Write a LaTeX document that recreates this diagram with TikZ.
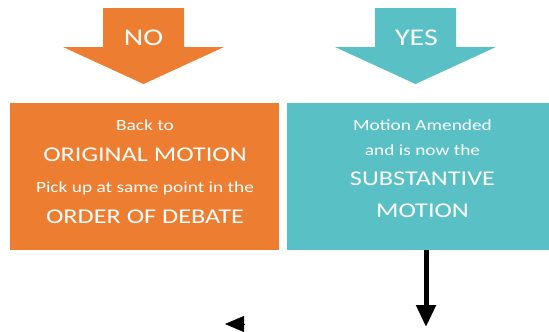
\documentclass[tikz,border=0pt]{standalone}
\usepackage{fontspec}
\setmainfont{Carlito}[FakeStretch=1.25]
\usetikzlibrary{arrows.meta}

\definecolor{noorange}{HTML}{ED7D31}
\definecolor{yesteal}{HTML}{59C1C5}

\newcommand\lineSmall{\fontsize{15.5}{31}\selectfont}
\newcommand\lineBig{\fontsize{21}{31}\selectfont}

\tikzset{
  decision/.style={font=\fontsize{24}{28}\selectfont, text=white, inner sep=0pt},
  outcome/.style={inner sep=0pt, minimum width=269pt, minimum height=147pt},
  outcometext/.style={align=center, text=white, inner sep=0pt},
  nextstep/.style={line width=5pt, -{Triangle[length=22pt,width=19pt]}},
}

\begin{document}
\begin{tikzpicture}[x=1pt, y=-1pt]

\useasboundingbox (0,0) rectangle (549,332);

\def\blockarrow(#1,#2)#3{
  \begin{scope}[shift={(#1,#2)}]
    \fill[#3] (-40.5,0) -- (40.5,0) -- (40.5,39) -- (80.5,39)
      -- (0,76) -- (-80.5,39) -- (-40.5,39) -- cycle;
  \end{scope}
}

\blockarrow(143.5,8){noorange}
\blockarrow(415.5,8){yesteal}

\node[decision] (no) at (143.5,37.5) {NO};
\node[decision] (yes) at (416.5,37.5) {YES};

% outcome boxes
\node[outcome, fill=noorange] (nobox) at (144.5,176.5) {};
\node[outcome, fill=yesteal] (yesbox) at (421.5,176.5) {};

\node[outcometext, font=\fontsize{15.5}{31}\selectfont] (notext) at (145,171.5)
  {\lineSmall Back to\\ \lineBig ORIGINAL MOTION\\
   \lineSmall Pick up at same point in the\\ \lineBig ORDER OF DEBATE};
\node[outcometext, font=\fontsize{15.5}{25}\selectfont] (yestext) at (422.5,169)
  {\lineSmall Motion Amended\\ \lineSmall and is now the\\[5pt]
   \lineBig SUBSTANTIVE\\[7pt] \lineBig MOTION};

\coordinate (yesend) at (426,327);
\draw[nextstep] (yesbox.south -| yesend) -- (yesend);

\coordinate (backtail) at (244,324);
\coordinate (backtip) at (225,324);
\draw[line width=0.4pt, -{Triangle[length=19pt,width=16pt]}] (backtail) -- (backtip);

\end{tikzpicture}
\end{document}
